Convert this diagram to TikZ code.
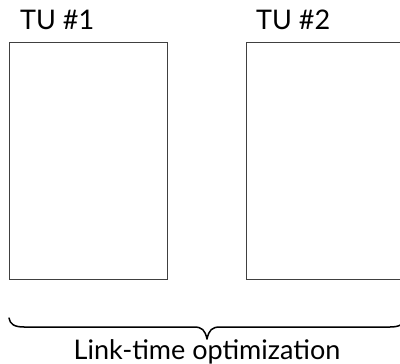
\documentclass[tikz,border=0pt]{standalone}
\usepackage{fontspec}
\setmainfont{Lato}
\begin{document}
\begin{tikzpicture}[x=1pt,y=-1pt,
  tubox/.style={draw=black!75, line width=1pt, minimum width=158pt, minimum height=237pt, inner sep=0pt},
  tulabel/.style={font=\fontsize{27}{30}\selectfont, inner sep=0pt, anchor=base west},
  bracelabel/.style={font=\fontsize{27}{30}\selectfont, inner sep=0pt, anchor=base}]
\useasboundingbox (0,0) rectangle (400,364);
\clip (0,0) rectangle (400,364);
\node[tubox] (b1) at (88,160.5) {};
\node[tubox] (b2) at (325,160.5) {};
\node[tulabel] (l1) at (20,30) {TU \#1};
\node[tulabel] (l2) at (256,30) {TU \#2};
\coordinate (bl) at (9,318);
\coordinate (br) at (405,318);
\coordinate (tip) at (207,339);
\draw[line width=1.5pt, line cap=round, line join=round]
  (bl) .. controls (10,324) and (14,327) .. (24,327) -- (194,327)
  .. controls (202,327) and (205,330) .. (tip)
  .. controls (209,330) and (212,327) .. (220,327) -- (390,327)
  .. controls (400,327) and (404,324) .. (br);
\node[bracelabel] (lto) at (207,359) {Link-time optimization};
\end{tikzpicture}
\end{document}
